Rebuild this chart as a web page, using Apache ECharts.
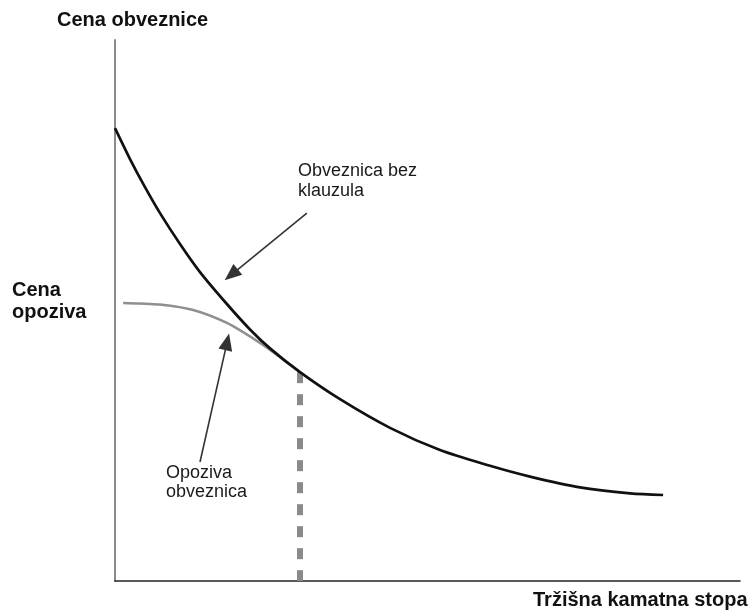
<!DOCTYPE html>
<html>
<head>
<meta charset="utf-8">
<script src="https://cdn.jsdelivr.net/npm/echarts@6/dist/echarts.min.js"></script>
<style>html,body{margin:0;padding:0;background:#fff;}#c{width:748px;height:611px;}</style>
</head>
<body>
<div id="c"></div>
<script>
// Straight bond (no call clause) price curve: [interest rate, price]
const straightBondX = [0, 2.4, 4.8, 7.2, 10.4, 13.6, 17.9, 21.6, 24.8, 29.6, 36.0, 44.0, 52.0, 60.0, 66.4, 74.4, 82.4, 87.7];
const straightBondY = [83.7, 78.0, 72.8, 68.0, 62.3, 57.1, 51.2, 46.5, 43.0, 38.6, 33.6, 28.3, 24.2, 21.3, 19.3, 17.3, 16.2, 15.9];
// Callable bond price curve
const callableX = [1.3, 4.0, 7.2, 12.5, 17.9, 23.2, 27.2, 29.6];
const callableY = [51.4, 51.3, 51.1, 50.1, 47.7, 44.0, 40.7, 38.6];
// Dashed vertical drop at the crossover rate
const dropX = [29.6, 29.6];
const dropY = [38.6, 0];
// Annotation arrows: [fromX, fromY, toX, toY] (to = centre of arrow head)
const arrowStraight = [30.7, 68.0, 18.6, 56.6];
const arrowCallable = [13.6, 22.0, 17.95, 44.2];
// Texts
const yAxisTitle = 'Cena obveznice';
const xAxisTitle = 'Tržišna kamatna stopa';
const callPriceLabel = ['Cena', 'opoziva'];
const straightLabel = ['Obveznica bez', 'klauzula'];
const callableLabel = ['Opoziva', 'obveznica'];

const zip = (xs, ys) => xs.map((x, i) => [x, ys[i]]);
const chart = echarts.init(document.getElementById('c'));
const FONT = '"Liberation Sans", Arial, sans-serif';

function arrowSeries(a) {
  return {
    type: 'line', data: [], silent: true,
    markLine: {
      silent: true, animation: false,
      symbol: ['none', 'triangle'], symbolSize: [14, 17],
      itemStyle: { color: '#111' },
      label: { show: false },
      lineStyle: { color: '#333', width: 1.6, type: 'solid' },
      data: [[{ coord: [a[0], a[1]] }, { coord: [a[2], a[3]] }]]
    }
  };
}

chart.setOption({
  animation: false,
  backgroundColor: '#fff',
  grid: { left: 115, top: 40, right: 8, bottom: 30, containLabel: false },
  xAxis: {
    type: 'value', min: 0, max: 100,
    axisLine: { show: true, lineStyle: { color: '#222', width: 1.6 } },
    axisTick: { show: false }, axisLabel: { show: false }, splitLine: { show: false }
  },
  yAxis: {
    type: 'value', min: 0, max: 100,
    axisLine: { show: true, lineStyle: { color: '#8a8a8a', width: 2 } },
    axisTick: { show: false }, axisLabel: { show: false }, splitLine: { show: false }
  },
  series: [
    {
      type: 'line', data: zip(dropX, dropY), symbol: 'none', silent: true, z: 1,
      lineStyle: { color: '#8a8a8a', width: 6, type: [11, 11] }
    },
    {
      type: 'line', data: zip(callableX, callableY), symbol: 'none', smooth: 0.3, silent: true, z: 2,
      lineStyle: { color: '#8f8f8f', width: 2.5 }
    },
    {
      type: 'line', data: zip(straightBondX, straightBondY), symbol: 'none', smooth: 0.3, silent: true, z: 3,
      lineStyle: { color: '#111', width: 2.7 }
    },
    arrowSeries(arrowStraight),
    arrowSeries(arrowCallable)
  ],
  graphic: [
    { type: 'text', left: 57, top: 10, style: { text: yAxisTitle, font: 'bold 20px ' + FONT, fill: '#111' } },
    { type: 'text', left: 533, top: 590, style: { text: xAxisTitle, font: 'bold 20px ' + FONT, fill: '#111' } },
    { type: 'text', left: 12, top: 279, style: { text: callPriceLabel.join('\n'), font: 'bold 20px ' + FONT, lineHeight: 22, fill: '#111' } },
    { type: 'text', left: 298, top: 161, style: { text: straightLabel.join('\n'), font: '18px ' + FONT, lineHeight: 20, fill: '#1a1a1a' } },
    { type: 'text', left: 166, top: 464, style: { text: callableLabel.join('\n'), font: '18px ' + FONT, lineHeight: 19, fill: '#1a1a1a' } }
  ]
});
</script>
</body>
</html>
